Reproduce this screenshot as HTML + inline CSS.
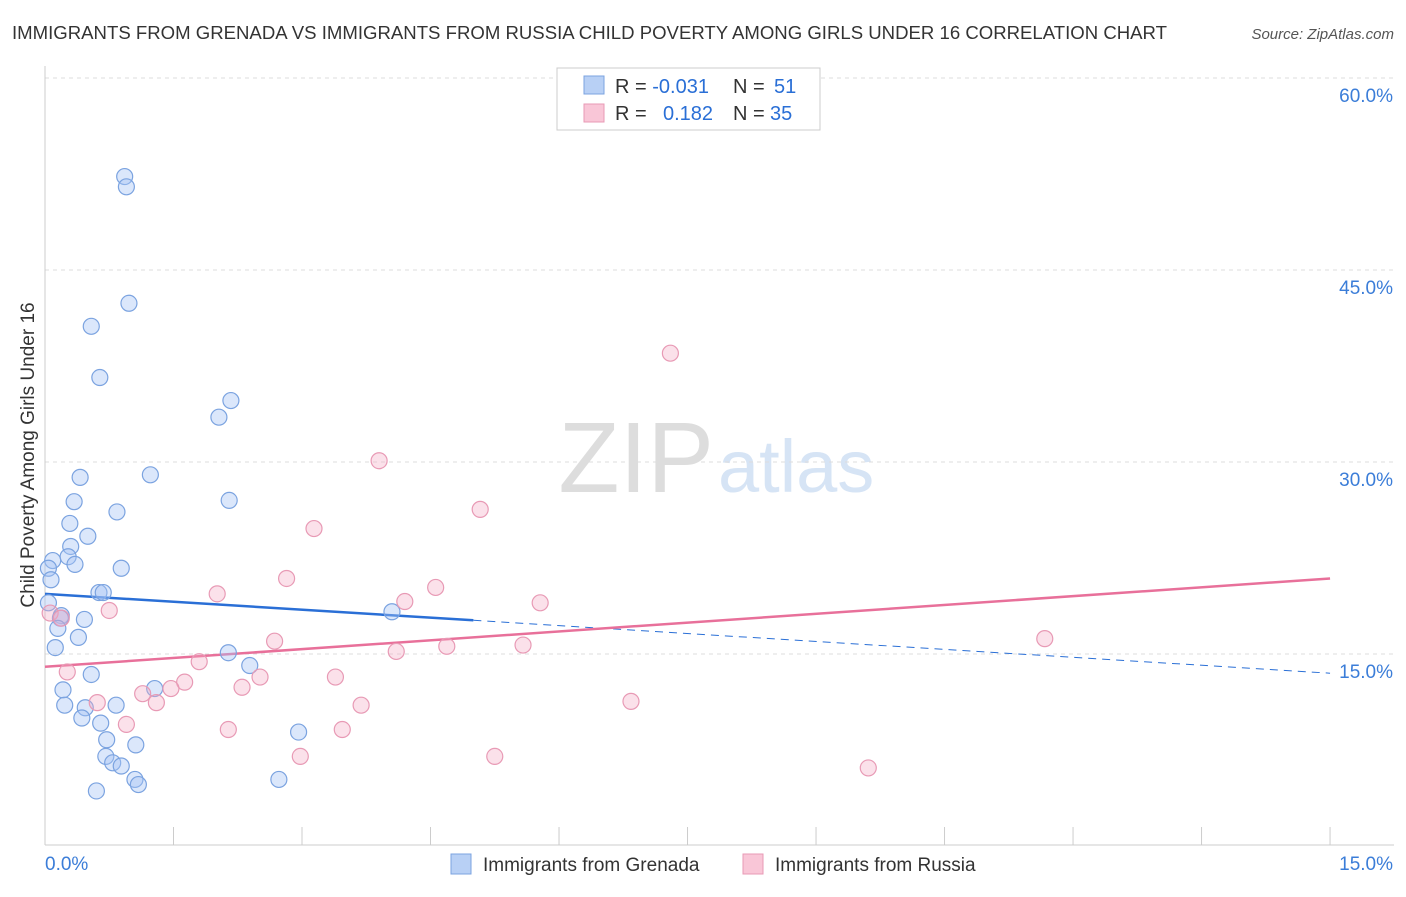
<!DOCTYPE html>
<html><head><meta charset="utf-8"><style>
body{margin:0;background:#fff;font-family:"Liberation Sans",sans-serif;}
svg text{font-family:"Liberation Sans",sans-serif;}
</style></head><body>
<svg id="chart" width="1406" height="892">
<text x="12" y="39" font-size="18" fill="#333" textLength="1155" lengthAdjust="spacingAndGlyphs">IMMIGRANTS FROM GRENADA VS IMMIGRANTS FROM RUSSIA CHILD POVERTY AMONG GIRLS UNDER 16 CORRELATION CHART</text>
<text x="1394" y="39" font-size="15" fill="#555" font-style="italic" text-anchor="end">Source: ZipAtlas.com</text>
<text x="714" y="492" font-size="100" fill="#ddd" text-anchor="end" font-family="Liberation Serif">ZIP</text>
<text x="718" y="492" font-size="74" fill="#d6e4f5">atlas</text>
<text transform="translate(34,455) rotate(-90)" font-size="19" fill="#333" text-anchor="middle">Child Poverty Among Girls Under 16</text>
<g id="grid"></g><g id="axes"></g><g id="trends"></g><g id="pts"></g>
<g>
<rect x="557" y="68" width="263" height="62" fill="#fff" stroke="#ccc"/>
<rect x="584" y="76" width="20" height="18" fill="#b8d0f5" stroke="#7ba3e0"/>
<rect x="584" y="104" width="20" height="18" fill="#f9c6d7" stroke="#e89ab5"/>
<text x="615" y="93" font-size="20" fill="#333">R = <tspan fill="#2a6fd6">-0.031</tspan><tspan x="733">N = </tspan><tspan fill="#2a6fd6" x="774">51</tspan></text>
<text x="615" y="120" font-size="20" fill="#333">R = <tspan fill="#2a6fd6" x="663">0.182</tspan><tspan x="733">N = </tspan><tspan fill="#2a6fd6" x="770">35</tspan></text>
</g>
<g>
<rect x="451" y="854" width="20" height="20" fill="#b8d0f5" stroke="#7ba3e0"/>
<text x="483" y="871" font-size="19" fill="#333">Immigrants from Grenada</text>
<rect x="743" y="854" width="20" height="20" fill="#f9c6d7" stroke="#e89ab5"/>
<text x="775" y="871" font-size="19" fill="#333">Immigrants from Russia</text>
</g>
</svg>
<script>
const blueX=[0.93,0.95,0.98,0.54,0.64,2.03,2.17,1.23,0.41,0.34,2.15,0.84,0.29,0.50,0.30,0.27,0.09,0.35,0.89,0.04,0.07,0.63,0.68,0.04,0.19,0.18,0.46,0.15,0.39,0.12,4.05,2.14,2.39,0.54,1.28,0.21,0.23,0.83,0.47,0.43,0.65,0.72,1.06,0.71,0.79,0.89,1.05,1.09,2.73,0.60,2.96];
const blueY=[52.3,51.5,42.4,40.6,36.6,33.5,34.8,29.0,28.8,26.9,27.0,26.1,25.2,24.2,23.4,22.6,22.3,22.0,21.7,21.7,20.8,19.8,19.8,19.0,18.0,17.8,17.7,17.0,16.3,15.5,18.3,15.1,14.1,13.4,12.3,12.2,11.0,11.0,10.8,10.0,9.6,8.3,7.9,7.0,6.5,6.25,5.2,4.8,5.2,4.3,8.9];
const pinkX=[7.30,3.90,5.08,3.14,2.82,4.56,2.01,4.20,5.78,0.75,0.06,0.19,2.68,4.69,5.58,11.67,4.10,1.80,0.26,2.51,3.39,1.63,1.47,1.14,2.30,1.30,0.61,3.69,6.84,0.95,2.14,3.47,2.98,5.25,9.61];
const pinkY=[38.5,30.1,26.3,24.8,20.9,20.2,19.7,19.1,19.0,18.4,18.2,17.8,16.0,15.6,15.7,16.2,15.2,14.4,13.6,13.2,13.2,12.8,12.3,11.9,12.4,11.2,11.2,11.0,11.3,9.5,9.1,9.1,7.0,7.0,6.1];
const yTicks=[15,30,45,60];
const xTickLabels=["0.0%","15.0%"];
const blueTrend=[19.7,13.5], pinkTrend=[14.0,20.9], blueSolidEnd=5.0;
const NS="http://www.w3.org/2000/svg";
const sx=v=>45+v*85.67, sy=v=>654-(v-15)*12.8;
function mk(par,t,a){const e=document.createElementNS(NS,t);for(const k in a)e.setAttribute(k,a[k]);document.getElementById(par).appendChild(e);return e;}
yTicks.forEach(t=>{
 const l=mk('grid','line',{x1:45,x2:1394,y1:sy(t),y2:sy(t),stroke:'#ddd','stroke-dasharray':'4,4'});
 
 
 const tx=mk('grid','text',{x:1393,y:sy(t)+24,'font-size':19,fill:'#3b7dd8','text-anchor':'end'});
 tx.textContent=t.toFixed(1)+'%';
 
 
});
let ax=mk('axes','line',{x1:45,x2:45,y1:66,y2:845,stroke:'#ccc'});

ax=mk('axes','line',{x1:45,x2:1394,y1:845,y2:845,stroke:'#ccc'});

for(let i=0;i<=10;i++){const t=mk('axes','line',{x1:sx(i*1.5),x2:sx(i*1.5),y1:827,y2:845,stroke:'#ccc'});
 }
[[0,'start',45],[15,'end',1393]].forEach((d,i)=>{const t=mk('axes','text',{x:d[2],y:870,'font-size':19,fill:'#3b7dd8','text-anchor':d[1]});
 t.textContent=xTickLabels[i];});
const bY=x=>blueTrend[0]+(blueTrend[1]-blueTrend[0])*x/15;
let tl=mk('trends','line',{x1:sx(0),y1:sy(bY(0)),x2:sx(blueSolidEnd),y2:sy(bY(blueSolidEnd)),stroke:'#2a6fd6','stroke-width':2.5});

tl=mk('trends','line',{x1:sx(blueSolidEnd),y1:sy(bY(blueSolidEnd)),x2:sx(15),y2:sy(bY(15)),stroke:'#2a6fd6','stroke-width':1,'stroke-dasharray':'8,6'});

tl=mk('trends','line',{x1:sx(0),y1:sy(pinkTrend[0]),x2:sx(15),y2:sy(pinkTrend[1]),stroke:'#e8709a','stroke-width':2.5});

blueX.forEach((x,i)=>{const c=mk('pts','circle',{cx:sx(x),cy:sy(blueY[i]),r:8,fill:'rgba(164,194,244,0.4)',stroke:'#7ba3e0','stroke-width':1.2});
 });
pinkX.forEach((x,i)=>{const c=mk('pts','circle',{cx:sx(x),cy:sy(pinkY[i]),r:8,fill:'rgba(244,170,195,0.35)',stroke:'#e89ab5','stroke-width':1.2});
 });
</script>
</body></html>
